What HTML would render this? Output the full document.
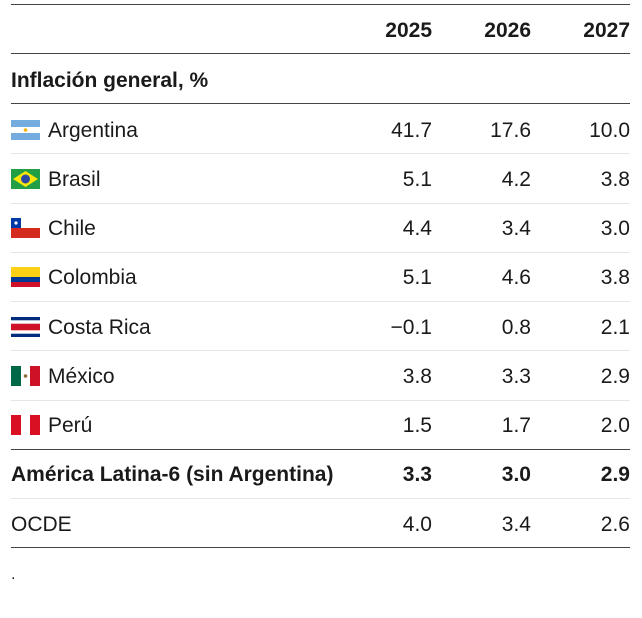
<!DOCTYPE html>
<html><head><meta charset="utf-8"><style>
body{margin:0;width:642px;height:618px;background:#fff;font-family:"Liberation Sans",sans-serif;color:#1a1a1a;position:relative;overflow:hidden}
.line{position:absolute;left:11px;width:619px}
.row{position:absolute;left:0;width:642px;height:49px;font-size:21px}
.row span{position:absolute;top:calc(50% + 2px);transform:translateY(-50%);white-space:nowrap}
.lbl{left:11px}.flagged{left:48px}
.flag{position:absolute;left:11px;top:50%;margin-top:-9px;width:29px;height:20px}
</style></head><body>
<div class="line" style="top:4px;height:1px;background:#444"></div>
<div class="row" style="top:4px;font-weight:bold">
<span style="right:210px">2025</span>
<span style="right:111px">2026</span>
<span style="right:12px">2027</span>
</div>
<div class="line" style="top:53px;height:1px;background:#444"></div>
<div class="row" style="top:54px;font-weight:bold"><span class="lbl">Inflación general, %</span></div>
<div class="line" style="top:103px;height:1px;background:#444"></div>
<div id="rows"></div>
<div style="position:absolute;left:11px;top:566px;font-size:16px">.</div>
<script>
const countries=["Argentina","Brasil","Chile","Colombia","Costa Rica","México","Perú","América Latina-6 (sin Argentina)","OCDE"];
const v2025=["41.7","5.1","4.4","5.1","−0.1","3.8","1.5","3.3","4.0"];
const v2026=["17.6","4.2","3.4","4.6","0.8","3.3","1.7","3.0","3.4"];
const v2027=["10.0","3.8","3.0","3.8","2.1","2.9","2.0","2.9","2.6"];
const flags={
"Argentina":'<svg class="flag" viewBox="0 0 29 20"><rect width="29" height="20" fill="#74acdf"/><rect y="7" width="29" height="6" fill="#fff"/><circle cx="14.5" cy="10" r="1.8" fill="#f6b40e"/></svg>',
"Brasil":'<svg class="flag" viewBox="0 0 29 20"><rect width="29" height="20" fill="#229e45"/><polygon points="14.5,2 27,10 14.5,18 2,10" fill="#f8e509"/><circle cx="14.5" cy="10" r="4.5" fill="#2b49a3"/></svg>',
"Chile":'<svg class="flag" viewBox="0 0 29 20"><rect width="29" height="20" fill="#fff"/><rect y="10" width="29" height="10" fill="#d52b1e"/><rect width="10" height="10" fill="#0039a6"/><circle cx="5" cy="5" r="1.6" fill="#fff"/></svg>',
"Colombia":'<svg class="flag" viewBox="0 0 29 20"><rect width="29" height="10" fill="#fcd116"/><rect y="10" width="29" height="5" fill="#003893"/><rect y="15" width="29" height="5" fill="#ce1126"/></svg>',
"Costa Rica":'<svg class="flag" viewBox="0 0 29 20"><rect width="29" height="20" fill="#002b7f"/><rect y="3.3" width="29" height="13.4" fill="#fff"/><rect y="6.7" width="29" height="6.6" fill="#ce1126"/></svg>',
"México":'<svg class="flag" viewBox="0 0 29 20"><rect width="10" height="20" fill="#006847"/><rect x="10" width="9" height="20" fill="#fff"/><rect x="19" width="10" height="20" fill="#ce1126"/><circle cx="14.5" cy="10" r="1.8" fill="#8c6b3a"/></svg>',
"Perú":'<svg class="flag" viewBox="0 0 29 20"><rect width="10" height="20" fill="#d91023"/><rect x="10" width="9" height="20" fill="#fff"/><rect x="19" width="10" height="20" fill="#d91023"/></svg>'
};
const c=document.getElementById('rows');
countries.forEach((n,i)=>{
  const top=104+49.25*i;
  const r=document.createElement('div');
  r.className='row';r.style.top=top+'px';
  
  
  if(i===7) r.style.fontWeight='bold';
  const f=flags[n]||'';
  r.innerHTML=f+'<span class="'+(f?'flagged':'lbl')+'">'+n+'</span>'+
   '<span style="right:210px">'+v2025[i]+'</span><span style="right:111px">'+v2026[i]+'</span><span style="right:12px">'+v2027[i]+'</span>';
  c.appendChild(r);
  if(i<8){
    const l=document.createElement('div');
    l.className='line';l.style.top=(top+49.25)+'px';
    l.style.height='1px';
    l.style.background=(i===6)?'#444':'#e6e6e6';
    
    
    c.appendChild(l);
  }
});
const b=document.createElement('div');
b.className='line';b.style.top='547px';b.style.height='1px';b.style.background='#444';


c.appendChild(b);
</script>
</body></html>
